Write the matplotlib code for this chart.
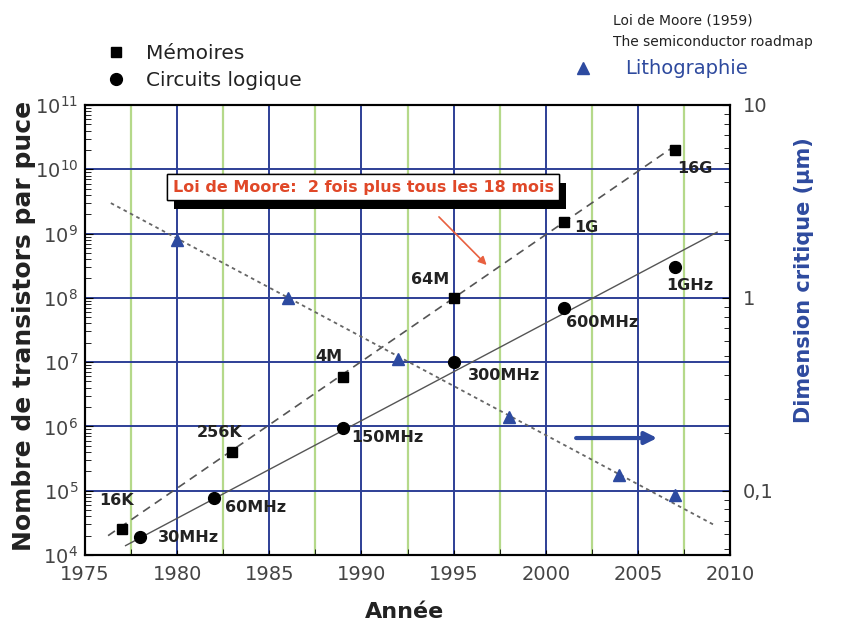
import matplotlib
matplotlib.use("Agg")
import matplotlib.pyplot as plt
import matplotlib.patheffects as pe

# memoires (squares)
mem_years = [1977, 1983, 1989, 1995, 2001, 2007]
mem_vals = [2.5e4, 4e5, 5.9e6, 1e8, 1.5e9, 2e10]
mem_labels = ['16K', '256K', '4M', '64M', '1G', '16G']

# circuits logiques (circles)
logic_years = [1978, 1982, 1989, 1995, 2001, 2007]
logic_vals = [1.9e4, 7.7e4, 9.5e5, 1e7, 6.9e7, 3e8]
logic_labels = ['30MHz', '60MHz', '150MHz', '300MHz', '600MHz', '1GHz']

# lithographie, right axis (um)
litho_years = [1980, 1986, 1992, 1998, 2004, 2007]
litho_vals = [2.0, 1.0, 0.48, 0.24, 0.12, 0.095]

# trend lines (end points)
mem_trend_years = [1976.25, 2006.8]
mem_trend_vals = [2.0e4, 2.1e10]
logic_trend_years = [1977.2, 2009.3]
logic_trend_vals = [1.4e4, 1.05e9]
litho_trend_years = [1976.4, 2009.2]
litho_trend_vals = [3.1, 0.066]

# label offsets in pixels (dx, dy) from each point
mem_offsets = [(-23, 29), (-36, 20), (-28, 20), (-43, 18), (10, -5), (2, -19)]
logic_offsets = [(18, 0), (11, -9), (8, -10), (14, -13), (2, -14), (-9, -18)]

BLUE = '#2d3f96'
GREEN = '#b5d98a'
TXT = '#222222'

fig = plt.figure(figsize=(8.59, 6.26), dpi=100)
ax = fig.add_axes([0.099, 0.1134, 0.7508, 0.7189])
ax.set_xlim(1975, 2010)
ax.set_yscale('log')
ax.set_ylim(1e4, 1e11)

ax.set_xticks(range(1975, 2011, 5))
ax.set_xticks([1977.5 + 5 * i for i in range(7)], minor=True)
ax.set_yticks([10.0 ** k for k in range(4, 12)])
ax.grid(which='major', color=BLUE, lw=1.4)
ax.grid(which='minor', axis='x', color=GREEN, lw=1.6)
ax.set_axisbelow(True)
ax.tick_params(axis='both', which='both', direction='in', colors='black',
               labelcolor='#444444', labelsize=14)
ax.tick_params(axis='x', pad=7)
ax.tick_params(axis='y', which='major', length=6, pad=5)
ax.tick_params(axis='y', which='minor', length=4)
ax.tick_params(axis='x', which='minor', length=4)
for s in ax.spines.values():
    s.set_linewidth(1.5)

ax.plot(mem_trend_years, mem_trend_vals, ls=(0, (5, 3.5)), color='#555555', lw=1.2)
ax.plot(logic_trend_years, logic_trend_vals, ls='-', color='#555555', lw=1.0)

h_mem, = ax.plot(mem_years, mem_vals, 's', color='black', ms=6.5, ls='none',
                 label='Mémoires', zorder=5)
h_log, = ax.plot(logic_years, logic_vals, 'o', color='black', ms=8.5, ls='none',
                 label='Circuits logique', zorder=5)

for x, y, t, off in zip(mem_years, mem_vals, mem_labels, mem_offsets):
    ax.annotate(t, (x, y), xytext=off, textcoords='offset pixels', ha='left',
                va='center', fontsize=11.5, fontweight='bold', color=TXT, zorder=6)
for x, y, t, off in zip(logic_years, logic_vals, logic_labels, logic_offsets):
    ax.annotate(t, (x, y), xytext=off, textcoords='offset pixels', ha='left',
                va='center', fontsize=11.5, fontweight='bold', color=TXT, zorder=6)

ax.set_xlabel('Année', fontsize=16, fontweight='bold', color=TXT)
ax.xaxis.set_label_coords(0.495, -0.105)
ax.set_ylabel('Nombre de transistors par puce', fontsize=18, fontweight='bold', color=TXT)
ax.yaxis.set_label_coords(-0.076, 0.51)

# red callout
box = ax.text(1990.1, 10 ** 9.72, 'Loi de Moore:  2 fois plus tous les 18 mois',
              ha='center', va='center', fontsize=11.5, fontweight='bold', color='#e04828',
              zorder=8,
              bbox=dict(boxstyle='square,pad=0.35', fc='white', ec='black', lw=1))
box.get_bbox_patch().set_path_effects([
    pe.withSimplePatchShadow(offset=(5, -6), shadow_rgbFace='black', alpha=1.0),
    pe.Normal()])
ax.annotate('', xy=(1996.9, 10 ** 8.48), xytext=(1994.1, 10 ** 9.29),
            arrowprops=dict(arrowstyle='-|>', color='#e86040', lw=1.2,
                            mutation_scale=12), zorder=7)

# blue arrow pointing to right axis
ax.annotate('', xy=(2006.2, 6.6e5), xytext=(2001.5, 6.6e5),
            arrowprops=dict(arrowstyle='-|>', color='#2d4aa0', lw=3,
                            mutation_scale=18), zorder=7)

ax2 = ax.twinx()
ax2.set_yscale('log')
ax2.set_ylim(10 ** (-4 / 3), 10)
ax2.set_yticks([0.1, 1, 10])
ax2.set_yticklabels(['0,1', '1', '10'])
ax2.tick_params(axis='y', which='both', direction='in', labelsize=14,
                labelcolor='#444444', pad=9)
ax2.tick_params(axis='y', which='major', length=6)
ax2.tick_params(axis='y', which='minor', length=4)
for s in ax2.spines.values():
    s.set_linewidth(1.5)
ax2.plot(litho_trend_years, litho_trend_vals, ls=(0, (2, 2)), color='#666666', lw=1.3)
h_lit, = ax2.plot(litho_years, litho_vals, '^', color='#2d4aa0', ms=8.5, ls='none',
                  label='Lithographie', zorder=5)
ax2.set_ylabel('Dimension critique (µm)', fontsize=15, fontweight='bold', color='#2e4a9e')
ax2.yaxis.set_label_coords(1.1, 0.61)

fig.legend(handles=[h_mem, h_log], loc='upper left', bbox_to_anchor=(0.1234, 0.93),
           frameon=False, fontsize=14.5, handlelength=1.0, handletextpad=1.0,
           labelspacing=0.4, borderpad=0, borderaxespad=0, labelcolor=TXT)
fig.legend(handles=[h_lit], loc='upper left', bbox_to_anchor=(0.667, 0.905),
           frameon=False, fontsize=14, handlelength=1.0, handletextpad=1.7,
           borderpad=0, borderaxespad=0, labelcolor='#2e4a9e')

fig.text(0.714, 0.968, 'Loi de Moore (1959)', fontsize=10, color=TXT, va='center')
fig.text(0.714, 0.933, 'The semiconductor roadmap', fontsize=10, color=TXT, va='center')

fig.savefig('out.png', dpi=100)
